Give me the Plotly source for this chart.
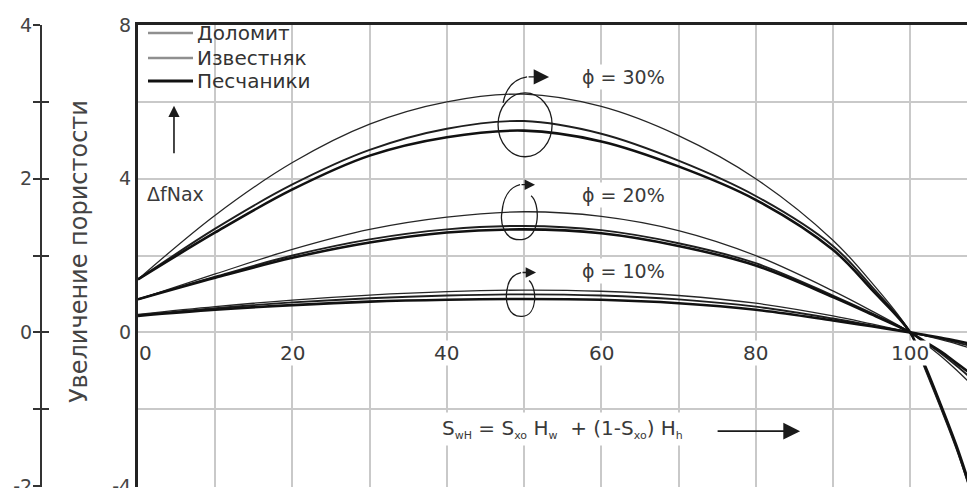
import plotly.graph_objects as go

# ---------------- data ----------------
S_WH = [0, 10, 20, 30, 40, 50, 60, 70, 80, 90, 95, 100, 102, 104, 106, 108.4]

dolomite_30 = [1.38, 3.05, 4.42, 5.42, 6.00, 6.20, 5.88, 5.12, 4.00, 2.40, 1.30, 0, -1.00, -2.00, -3.05, -4.50]
limestone_30 = [1.38, 2.70, 3.85, 4.75, 5.30, 5.50, 5.17, 4.47, 3.55, 2.25, 1.20, 0, -0.95, -1.95, -3.00, -4.50]
sandstone_30 = [1.38, 2.60, 3.72, 4.60, 5.08, 5.25, 4.97, 4.32, 3.45, 2.15, 1.12, 0, -0.90, -1.90, -2.95, -4.40]

dolomite_20 = [0.86, 1.52, 2.16, 2.68, 3.00, 3.14, 3.02, 2.65, 2.00, 1.08, 0.56, 0, -0.30, -0.62, -0.98, -1.45]
limestone_20 = [0.86, 1.45, 2.00, 2.42, 2.68, 2.77, 2.66, 2.32, 1.80, 0.96, 0.50, 0, -0.27, -0.55, -0.87, -1.28]
sandstone_20 = [0.86, 1.42, 1.94, 2.34, 2.60, 2.68, 2.58, 2.25, 1.74, 0.92, 0.47, 0, -0.25, -0.50, -0.80, -1.15]

dolomite_10 = [0.47, 0.67, 0.84, 0.97, 1.06, 1.10, 1.07, 0.96, 0.76, 0.43, 0.22, 0, -0.09, -0.19, -0.30, -0.45]
limestone_10 = [0.45, 0.63, 0.78, 0.89, 0.96, 0.99, 0.96, 0.86, 0.67, 0.36, 0.18, 0, -0.08, -0.16, -0.26, -0.38]
sandstone_10 = [0.43, 0.59, 0.71, 0.80, 0.85, 0.87, 0.85, 0.76, 0.59, 0.31, 0.16, 0, -0.07, -0.14, -0.22, -0.32]

lithology_names = ["Доломит", "Известняк", "Песчаники"]
phi_labels = ["ϕ = 30%", "ϕ = 20%", "ϕ = 10%"]
phi_label_y = [6.65, 3.58, 1.61]
x_tick_values = [0, 20, 40, 60, 80, 100]
inner_y_ticks = [-4, 0, 4, 8]
inner_y_text = ["-4", "0", "4", "8"]
outer_y_ticks = [-2, 0, 2, 4]
outer_y_text = ["-2", "0", "2", "4"]
y_title = "Увеличение пористости"
SUB = "<sub><span style='font-size:11px'>{}</span></sub>"
formula = ("S" + SUB.format("wH") + " = S" + SUB.format("xo") + " H" + SUB.format("w") +
           "  + (1-S" + SUB.format("xo") + ") H" + SUB.format("h"))

# ---------------- styles ----------------
FONT = "DejaVu Sans"
TXT = "#3a3a3a"
GRID = "#c9c9c9"
line_width = {"Доломит": 1.3, "Известняк": 1.9, "Песчаники": 2.6}
line_color = {"Доломит": "#262626", "Известняк": "#1e1e1e", "Песчаники": "#111111"}
legend_color = {"Доломит": "#8f8f8f", "Известняк": "#8f8f8f", "Песчаники": "#111111"}
legend_width = {"Доломит": 2.5, "Известняк": 2.5, "Песчаники": 3.2}

series = [
    ("Доломит", dolomite_30), ("Известняк", limestone_30), ("Песчаники", sandstone_30),
    ("Доломит", dolomite_20), ("Известняк", limestone_20), ("Песчаники", sandstone_20),
    ("Доломит", dolomite_10), ("Известняк", limestone_10), ("Песчаники", sandstone_10),
]

fig = go.Figure()
for name, vals in series:
    fig.add_trace(go.Scatter(x=S_WH, y=vals, mode="lines", showlegend=False, name=name,
                             line=dict(color=line_color[name], width=line_width[name],
                                       shape="spline", smoothing=1.0),
                             hoverinfo="skip"))

# dummy traces so the outer axes exist
fig.add_trace(go.Scatter(x=[None], y=[None], yaxis="y2", showlegend=False, hoverinfo="skip"))
fig.add_trace(go.Scatter(x=[None], y=[None], yaxis="y3", showlegend=False, hoverinfo="skip"))

# The page body has an 8px margin: the figure is sized so it ends at the window edge.
OFF = 8
W, H = 975 - OFF, 488 - OFF
L, R, T, B = 20 - OFF, 0, 25 - OFF, 1
plot_w = W - L - R
plot_h = H - T - B


def px(xp):   # window pixel -> paper x
    return (xp - 20) / plot_w


def py(yp):   # window pixel -> paper y
    return (487 - yp) / plot_h


outer_axis = dict(
    overlaying="y", anchor="free", position=px(41), side="left",
    range=[-2.012, 4], showline=True, linecolor="#333", linewidth=2,
    showgrid=False, zeroline=False, tickvals=outer_y_ticks, ticktext=outer_y_text,
    tickfont=dict(family=FONT, size=19, color="#444"),
    ticklen=7, tickwidth=2, tickcolor="#333",
    ticklabeloverflow="allow", automargin=False,
)

fig.update_layout(
    width=W, height=H,
    margin=dict(l=L, r=R, t=T, b=B, autoexpand=False),
    paper_bgcolor="white", plot_bgcolor="white",
    font=dict(family=FONT, color=TXT),
    showlegend=False,
    xaxis=dict(domain=[px(138), 1], range=[0, 108.4], side="top",
               showline=True, linecolor="#222", linewidth=3,
               showgrid=True, gridcolor=GRID, gridwidth=1.5, automargin=False,
               tick0=0, dtick=10, showticklabels=False, ticks="", zeroline=False),
    yaxis=dict(anchor="x", range=[-4.024, 8], tickvals=inner_y_ticks, ticktext=inner_y_text,
               showline=True, linecolor="#222", linewidth=3,
               showgrid=True, gridcolor=GRID, gridwidth=1.5,
               minor=dict(tickvals=[-2, 2, 6], showgrid=True, gridcolor=GRID, gridwidth=1.5),
               zeroline=False, ticks="", ticklabelstandoff=0,
               ticklabeloverflow="allow", automargin=False,
               tickfont=dict(family=FONT, size=19, color="#444")),
    yaxis2=dict(outer_axis, ticks="outside", ticklabelstandoff=-3,
                minor=dict(tickvals=[-1, 1, 3], ticks="outside", ticklen=7, tickwidth=2, tickcolor="#333")),
    yaxis3=dict(outer_axis, ticks="inside", showticklabels=False,
                minor=dict(tickvals=[-1, 1, 3], ticks="inside", ticklen=7, tickwidth=2, tickcolor="#333")),
)

ann = []
# y-axis title
ann.append(dict(text=y_title, xref="paper", yref="paper", x=px(79), y=py(252),
                xanchor="center", yanchor="middle", textangle=-90, showarrow=False,
                font=dict(family=FONT, size=24, color="#444")))
# x tick labels sitting on the zero line
for t in x_tick_values:
    ann.append(dict(text=str(t), x=t, y=0, xref="x", yref="y", showarrow=False,
                    xanchor="left" if t == 0 else "center", yanchor="middle",
                    yshift=-21, bgcolor="white", borderpad=0,
                    font=dict(family=FONT, size=20, color="#3a3a3a")))
# porosity labels
for lab, yv in zip(phi_labels, phi_label_y):
    ann.append(dict(text=lab, x=57.25, y=yv, xref="x", yref="y", showarrow=False,
                    xanchor="left", yanchor="middle", bgcolor="white", borderpad=1,
                    font=dict(family=FONT, size=19, color="#3a3a3a")))
# ΔfNax label
ann.append(dict(text="ΔfNax", x=0.9, y=3.61, xref="x", yref="y", showarrow=False,
                xanchor="left", yanchor="middle", bgcolor="white", borderpad=1,
                font=dict(family=FONT, size=19, color="#3a3a3a")))
# formula label
ann.append(dict(text=formula, x=38.86, y=-2.52, xref="x", yref="y", showarrow=False,
                xanchor="left", yanchor="middle", bgcolor="white", borderpad=3,
                font=dict(family=FONT, size=20, color="#3a3a3a")))
# legend texts
legend_rows = [py(33), py(58), py(81)]
for name, yr in zip(lithology_names, legend_rows):
    ann.append(dict(text=name, xref="paper", yref="paper", x=px(195), y=yr,
                    xanchor="left", yanchor="middle", showarrow=False,
                    font=dict(family=FONT, size=20, color="#333")))


def arrow(x, y, ax, ay, w, s):
    return dict(text="", x=x, y=y, ax=ax, ay=ay, xref="x", yref="y", axref="x", ayref="y",
                showarrow=True, arrowhead=2, arrowwidth=w, arrowsize=s,
                arrowcolor="#1a1a1a", standoff=0, startstandoff=0)


ann.append(arrow(4.66, 5.90, 4.66, 4.62, 1.6, 1.4))
ann.append(arrow(85.75, -2.571, 74.87, -2.571, 1.6, 2.1))
ann.append(arrow(53.24, 6.649, 50.39, 6.649, 1.4, 2.2))
ann.append(arrow(51.42, 3.844, 49.48, 3.844, 1.3, 1.6))
ann.append(arrow(51.55, 1.558, 49.61, 1.558, 1.3, 1.6))
fig.update_layout(annotations=ann)

deco = dict(color="#1a1a1a", width=1.3)
shapes = [
    # legend box and samples
    dict(type="rect", xref="paper", yref="paper", x0=px(140), x1=px(296), y0=py(97), y1=py(27),
         fillcolor="white", line=dict(width=0), layer="between"),
]
for name, yr in zip(lithology_names, legend_rows):
    shapes.append(dict(type="line", xref="paper", yref="paper", x0=px(148), x1=px(193),
                       y0=yr, y1=yr, line=dict(color=legend_color[name], width=legend_width[name])))
shapes += [
    dict(type="circle", xref="x", yref="y", x0=46.63, x1=53.63, y0=4.571, y1=6.234, line=deco),
    dict(type="path", xref="x", yref="y", line=deco,
         path="M 47.28,5.974 C 47.67,6.364 48.70,6.597 50.39,6.649"),
    dict(type="path", xref="x", yref="y", line=deco,
         path="M 50.91,3.558 C 52.07,3.377 52.20,2.468 49.74,2.416 "
              "C 47.28,2.364 46.89,2.883 47.15,3.143 C 47.28,3.455 47.93,3.766 49.48,3.844"),
    dict(type="path", xref="x", yref="y", line=deco,
         path="M 50.65,1.351 C 51.68,1.169 51.81,0.442 49.74,0.416 "
              "C 47.80,0.390 47.54,0.857 47.80,1.117 C 47.93,1.351 48.45,1.506 49.61,1.558"),
]
fig.update_layout(shapes=shapes)

fig.write_html("out.html")
